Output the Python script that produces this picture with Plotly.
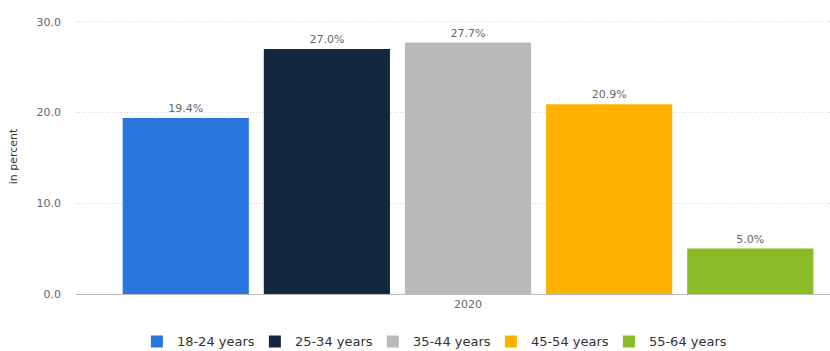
import plotly.graph_objects as go

categories = ["2020"]
series_names = ["18-24 years", "25-34 years", "35-44 years", "45-54 years", "55-64 years"]
series_values = [19.4, 27.0, 27.7, 20.9, 5.0]
series_colors = ["#2876dd", "#13283f", "#bababa", "#ffb100", "#8bbb27"]
y_ticks = [0, 10, 20, 30]

fig = go.Figure()
for name, val, col in zip(series_names, series_values, series_colors):
    fig.add_trace(go.Bar(
        x=categories, y=[val], name=name, marker_color=col,
        marker_line_width=0,
        text=[f"{val:.1f}%"], textposition="outside", cliponaxis=False,
        textfont=dict(color="#666666", size=11, family="DejaVu Sans"),
    ))

fig.update_layout(
    width=830, height=351,
    margin=dict(l=76, r=0, t=19, b=57, autoexpand=False),
    barmode="group", bargap=0.1, bargroupgap=0.106,
    plot_bgcolor="white", paper_bgcolor="white",
    font=dict(family="DejaVu Sans", size=11, color="#666666"),
    showlegend=True,
    legend=dict(orientation="h", x=0.472, xanchor="center", y=-0.118, yref="paper",
                yanchor="top", font=dict(color="#333333", size=13),
                itemwidth=30, tracegroupgap=0, entrywidth=73, entrywidthmode="pixels"),
    xaxis=dict(type="category", range=[-0.5, 0.4617], showline=True, linecolor="#bbbbbb",
               linewidth=1, ticks="", tickfont=dict(color="#666666", size=11)),
    yaxis=dict(range=[0, 30.3], tickvals=y_ticks, tickformat=".1f", showgrid=True,
               gridcolor="#d4d4d4", griddash="1px,2px", zeroline=False,
               title=dict(text="in percent", font=dict(color="#333333", size=11), standoff=16),
               tickfont=dict(color="#666666", size=11), ticks="", ticklabelstandoff=14),
)

fig.write_html("out.html")
